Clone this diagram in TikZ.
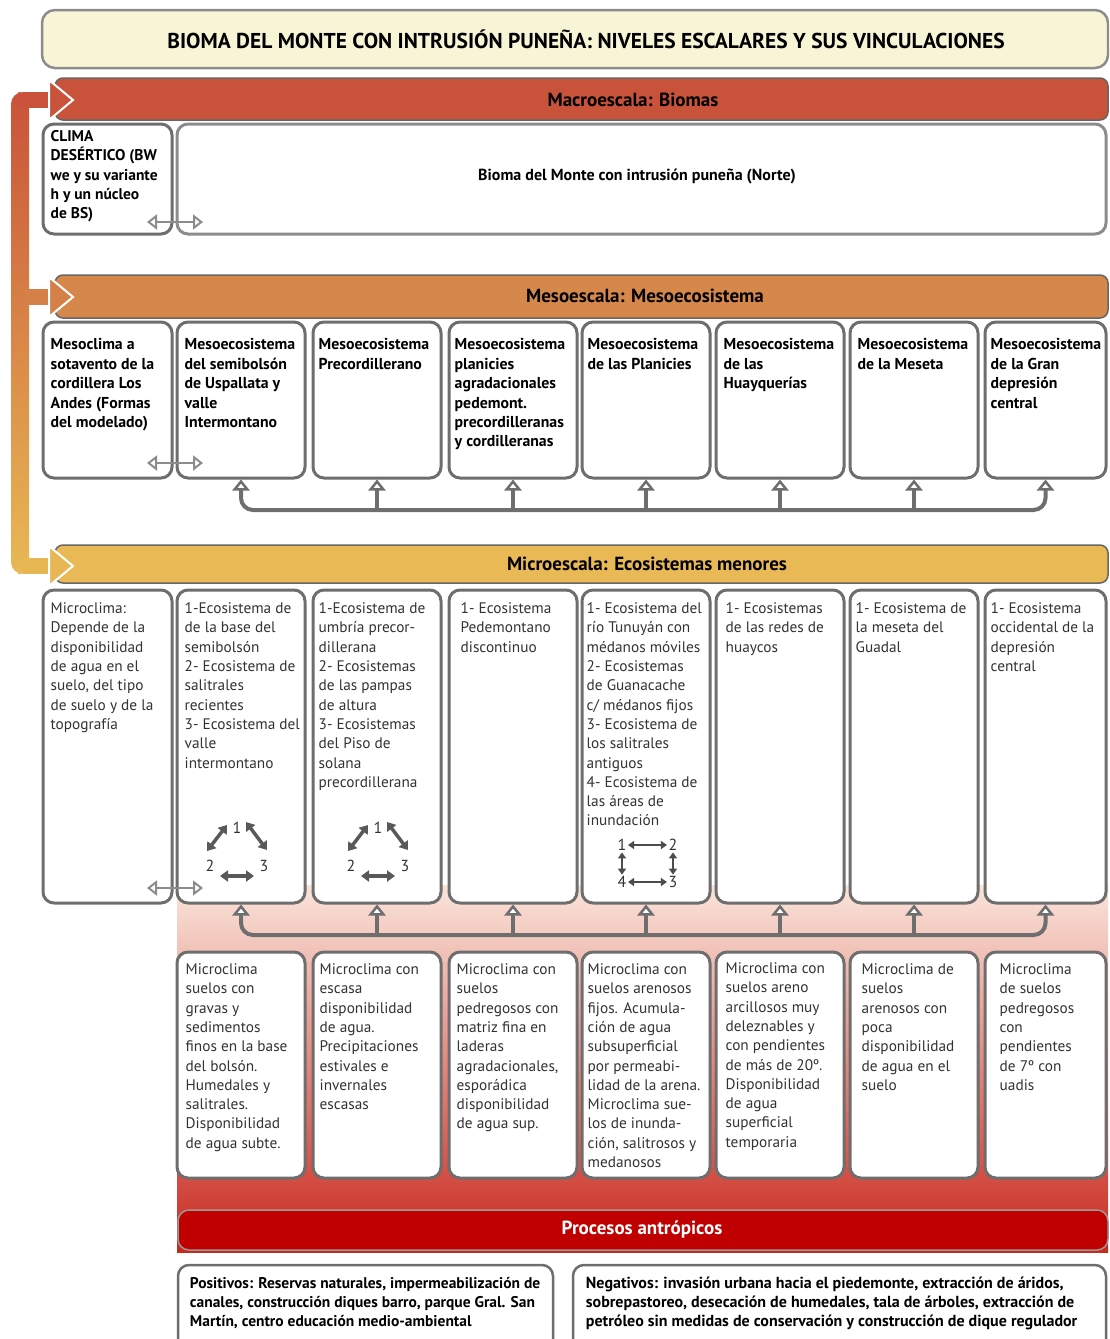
\documentclass[tikz,border=0pt]{standalone}
\usepackage{fontspec}
\setmainfont{PT Sans}
\usetikzlibrary{arrows.meta,calc}
\definecolor{macroC}{HTML}{C9523A}
\definecolor{mesoC}{HTML}{D6884B}
\definecolor{microC}{HTML}{E8B955}
\definecolor{procC}{HTML}{C00000}
\definecolor{lineC}{HTML}{6E6E6E}
\definecolor{titleC}{HTML}{F7F5D6}
\definecolor{bgTop}{HTML}{FAE4DA}
\definecolor{bgMid}{HTML}{ECA08E}
\definecolor{bgBot}{HTML}{C8281E}
\tikzset{
 panel/.style={draw=lineC, line width=3pt, rounded corners=11pt, fill=white, inner sep=0pt},
 bar/.style={draw=black!60, line width=1.5pt, rounded corners=8pt, inner sep=0pt},
 bartext/.style={inner sep=0pt, font=\fontsize{19}{21}\selectfont\bfseries},
 btxt/.style={anchor=north west, align=left, inner sep=0pt, font=\fontsize{15.8}{19.4}\selectfont\bfseries},
 ntxt/.style={anchor=north west, align=left, inner sep=0pt, font=\fontsize{15.3}{19.3}\selectfont\color{black!80}},
 ptxt/.style={anchor=north west, align=left, inner sep=0pt, font=\fontsize{15.5}{19}\selectfont\bfseries},
 conn/.style={draw=lineC, line width=4pt, rounded corners=12pt},
 uparrow/.style={-{Triangle[open,fill=white,length=11pt,width=17pt,line width=2.5pt]}},
 bothup/.style={{Triangle[open,fill=white,length=11pt,width=17pt,line width=2.5pt]}-{Triangle[open,fill=white,length=11pt,width=17pt,line width=2.5pt]}},
 dblarrow/.style={draw=black!45, line width=2pt, {Triangle[open,fill=white,length=10pt,width=15pt]}-{Triangle[open,fill=white,length=10pt,width=15pt]}},
 cyc/.style={draw=black!65, line width=3.5pt, {Triangle[length=8pt,width=11pt]}-{Triangle[length=8pt,width=11pt]}},
 sq/.style={draw=black!70, line width=2pt, {Triangle[length=6pt,width=8pt]}-{Triangle[length=6pt,width=8pt]}},
 num/.style={inner sep=1.5pt, font=\fontsize{16}{16}\selectfont\color{black!80}},
}
\newcommand\panelat[6][]{\node[panel,#1,minimum width={(#5)-(#3)},minimum height={(#6)-(#4)}] (#2) at ({((#3)+(#5))/2},{((#4)+(#6))/2}) {};}
\begin{document}
\begin{tikzpicture}[x=1pt,y=-1pt]
\useasboundingbox (0,0) rectangle (1109,1339);
\clip (0,0) rectangle (1109,1339);
\fill[white] (0,0) rectangle (1109,1339);

% background gradient behind lower panels
\shade[top color=bgTop, middle color=bgMid, bottom color=bgBot] (177,885) rectangle (1108,1252);

% title
\node[draw=black!45, line width=2.5pt, fill=titleC, rounded corners=13pt, minimum width=1066, minimum height=58] (title) at (575,39) {};
\node[inner sep=0pt, font=\fontsize{21.5}{23}\selectfont\bfseries] (titleT) at (586,39) {BIOMA DEL MONTE CON INTRUSIÓN PUNEÑA: NIVELES ESCALARES Y SUS VINCULACIONES};

% left bracket
\shade[top color=macroC, bottom color=microC, rounded corners=12pt] (11,92) rectangle (29,574);
\fill[macroC] (22,92) rectangle (56,108);
\fill[mesoC!85!macroC] (25,289) rectangle (56,305);
\fill[microC!95!mesoC] (22,558) rectangle (56,574);

% bars
\node[bar, fill=macroC, minimum width=1053, minimum height=42] (macro) at (581.5,99) {};
\node[bar, fill=mesoC, minimum width=1053, minimum height=43] (meso) at (581.5,296.5) {};
\node[bar, fill=microC, minimum width=1053, minimum height=38] (micro) at (581.5,564) {};
\node[bartext] (macroT) at (633,100) {Macroescala: Biomas};
\node[bartext] (mesoT) at (645,296) {Mesoescala: Mesoecosistema};
\node[bartext] (microT) at (647,564) {Microescala: Ecosistemas menores};

% bracket arrow heads
\filldraw[fill=macroC, draw=white, line width=2pt] (49,80) -- (73,100) -- (49,120) -- cycle;
\filldraw[fill=mesoC!85!macroC, draw=white, line width=2pt] (49,277) -- (73,297) -- (49,317) -- cycle;
\filldraw[fill=microC!95!mesoC, draw=white, line width=2pt] (49,546) -- (73,566) -- (49,586) -- cycle;

% macro panels
\panelat{ma1}{43}{124}{172}{234}
\panelat[draw=black!45]{ma2}{177}{124}{1106}{234}
\node[btxt, font=\fontsize{15.5}{19.2}\selectfont\bfseries] (ma1T) at ($(ma1.north west)+(9,8)$) {CLIMA\\DESÉRTICO (BW\\we y su variante\\h y un núcleo\\de BS)};
\node[font=\fontsize{16}{18}\selectfont\bfseries] (ma2T) at (637,176) {Bioma del Monte con intrusión puneña (Norte)};
\coordinate (da1) at (147,222);
\coordinate (da2) at (203,222);
\draw[dblarrow] (da1) -- (da2);

% meso and micro panels
\foreach \i/\a/\b in {1/43/172,2/177/305,3/313/441,4/449/577,5/582/710,6/716/844,7/850/978,8/985/1106}{
  \panelat{m\i}{\a}{322}{\b}{478}
  \panelat{u\i}{\a}{590}{\b}{903}
}
\foreach \i/\a/\b in {2/177/305,3/313/441,4/449/577,5/582/710,6/716/844,7/850/978,8/985/1106}{
  \panelat{b\i}{\a}{952}{\b}{1178}
}

% meso texts
\node[btxt] (mt1) at ($(m1.north west)+(9,18)$) {Mesoclima a\\sotavento de la\\cordillera Los\\Andes (Formas\\del modelado)};
\node[btxt] (mt2) at ($(m2.north west)+(9,18)$) {Mesoecosistema\\del semibolsón\\de Uspallata y\\valle\\Intermontano};
\node[btxt] (mt3) at ($(m3.north west)+(7,18)$) {Mesoecosistema\\Precordillerano};
\node[btxt] (mt4) at ($(m4.north west)+(7,18)$) {Mesoecosistema\\planicies\\agradacionales\\pedemont.\\precordilleranas\\y cordilleranas};
\node[btxt] (mt5) at ($(m5.north west)+(7,18)$) {Mesoecosistema\\de las Planicies};
\node[btxt] (mt6) at ($(m6.north west)+(9,18)$) {Mesoecosistema\\de las\\Huayquerías};
\node[btxt] (mt7) at ($(m7.north west)+(9,18)$) {Mesoecosistema\\de la Meseta};
\node[btxt] (mt8) at ($(m8.north west)+(7,18)$) {Mesoecosistema\\de la Gran\\depresión\\central};
\coordinate (db1) at (147,463);
\coordinate (db2) at (203,463);
\draw[dblarrow] (db1) -- (db2);

% meso connectors
\coordinate (mbus) at (0,510);
\draw[conn, bothup] (m2.south) -- (m2.south |- mbus) -| (m8.south);
\foreach \k in {3,...,7}{ \draw[conn, uparrow] (m\k.south |- mbus) -- (m\k.south); }

% micro texts
\node[ntxt] (ut1) at ($(u1.north west)+(9,14)$) {Microclima:\\Depende de la\\disponibilidad\\de agua en el\\suelo, del tipo\\de suelo y de la\\topografía};
\node[ntxt] (ut2) at ($(u2.north west)+(9,14)$) {1-Ecosistema de\\de la base del\\semibolsón\\2- Ecosistema de\\salitrales\\recientes\\3- Ecosistema del\\valle\\intermontano};
\node[ntxt] (ut3) at ($(u3.north west)+(7,14)$) {1-Ecosistema de\\umbría precor-\\dillerana\\2- Ecosistemas\\de las pampas\\de altura\\3- Ecosistemas\\del Piso de\\solana\\precordillerana};
\node[ntxt] (ut4) at ($(u4.north west)+(13,14)$) {1- Ecosistema\\Pedemontano\\discontinuo};
\node[ntxt] (ut5) at ($(u5.north west)+(6,14)$) {1- Ecosistema del\\río Tunuyán con\\médanos móviles\\2- Ecosistemas\\de Guanacache\\c/ médanos fijos\\3- Ecosistema de\\los salitrales\\antiguos\\4- Ecosistema de\\las áreas de\\inundación};
\node[ntxt] (ut6) at ($(u6.north west)+(11,14)$) {1- Ecosistemas\\de las redes de\\huaycos};
\node[ntxt] (ut7) at ($(u7.north west)+(7,14)$) {1- Ecosistema de\\la meseta del\\Guadal};
\node[ntxt] (ut8) at ($(u8.north west)+(7,14)$) {1- Ecosistema\\occidental de la\\depresión\\central};
\coordinate (dc1) at (147,888);
\coordinate (dc2) at (203,888);
\draw[dblarrow] (dc1) -- (dc2);

% cycle diagrams
\foreach \c/\cx in {2/237,3/378}{
  \node[num] (cy\c-1) at (\cx,828) {1};
  \node[num] (cy\c-2) at ({\cx-27},866) {2};
  \node[num] (cy\c-3) at ({\cx+27},866) {3};
  \draw[cyc] ($(cy\c-2)+(-3,-15)$) -- ($(cy\c-1)+(-10,-3)$);
  \draw[cyc] ($(cy\c-1)+(9,-6)$) -- ($(cy\c-3)+(3,-16)$);
  \draw[cyc] ($(cy\c-2)+(10,10)$) -- ($(cy\c-3)+(-10,10)$);
}
% square diagram
\node[num] (q1) at (622,845) {1};
\node[num] (q2) at (673,845) {2};
\node[num] (q3) at (673,882) {3};
\node[num] (q4) at (622,882) {4};
\draw[sq] (q1) -- (q2);
\draw[sq] (q4) -- (q3);
\draw[sq] (q1) -- (q4);
\draw[sq] (q2) -- (q3);

% micro connectors
\coordinate (ubus) at (0,935);
\draw[conn, bothup] (u2.south) -- (u2.south |- ubus) -| (u8.south);
\foreach \k in {3,...,7}{ \draw[conn, uparrow] (u\k.south |- ubus) -- (u\k.south); }

% bottom microclimate texts
\node[ntxt] (bt2) at ($(b2.north west)+(10,13)$) {Microclima\\suelos con\\gravas y\\sedimentos\\finos en la base\\del bolsón.\\Humedales y\\salitrales.\\Disponibilidad\\de agua subte.};
\node[ntxt] (bt3) at ($(b3.north west)+(8,13)$) {Microclima con\\escasa\\disponibilidad\\de agua.\\Precipitaciones\\estivales e\\invernales\\escasas};
\node[ntxt] (bt4) at ($(b4.north west)+(9,13)$) {Microclima con\\suelos\\pedregosos con\\matriz fina en\\laderas\\agradacionales,\\esporádica\\disponibilidad\\de agua sup.};
\node[ntxt] (bt5) at ($(b5.north west)+(7,13)$) {Microclima con\\suelos arenosos\\fijos. Acumula-\\ción de agua\\subsuperficial\\por permeabi-\\lidad de la arena.\\Microclima sue-\\los de inunda-\\ción, salitrosos y\\medanosos};
\node[ntxt] (bt6) at ($(b6.north west)+(11,12)$) {Microclima con\\suelos areno\\arcillosos muy\\deleznables y\\con pendientes\\de más de 20º.\\Disponibilidad\\de agua\\superficial\\temporaria};
\node[ntxt] (bt7) at ($(b7.north west)+(13,13)$) {Microclima de\\suelos\\arenosos con\\poca\\disponibilidad\\de agua en el\\suelo};
\node[ntxt] (bt8) at ($(b8.north west)+(16,13)$) {Microclima\\de suelos\\pedregosos\\con\\pendientes\\de 7º con\\uadis};

% processes
\node[bar, draw=black!40, fill=procC, rounded corners=11pt, minimum width=930, minimum height=40] (proc) at (643,1230) {};
\node[bartext, text=white] (procT) at (642,1230) {Procesos antrópicos};
\panelat[line width=2.5pt]{pos}{178}{1265}{553}{1352}
\panelat[line width=2.5pt]{neg}{573}{1265}{1106}{1352}
\node[ptxt] (posT) at ($(pos.north west)+(13,13)$) {Positivos: Reservas naturales, impermeabilización de\\canales, construcción diques barro, parque Gral. San\\Martín, centro educación medio-ambiental};
\node[ptxt, font=\fontsize{16}{19}\selectfont\bfseries] (negT) at ($(neg.north west)+(14,13)$) {Negativos: invasión urbana hacia el piedemonte, extracción de áridos,\\sobrepastoreo, desecación de humedales, tala de árboles, extracción de\\petróleo sin medidas de conservación y construcción de dique regulador};
\end{tikzpicture}
\end{document}
